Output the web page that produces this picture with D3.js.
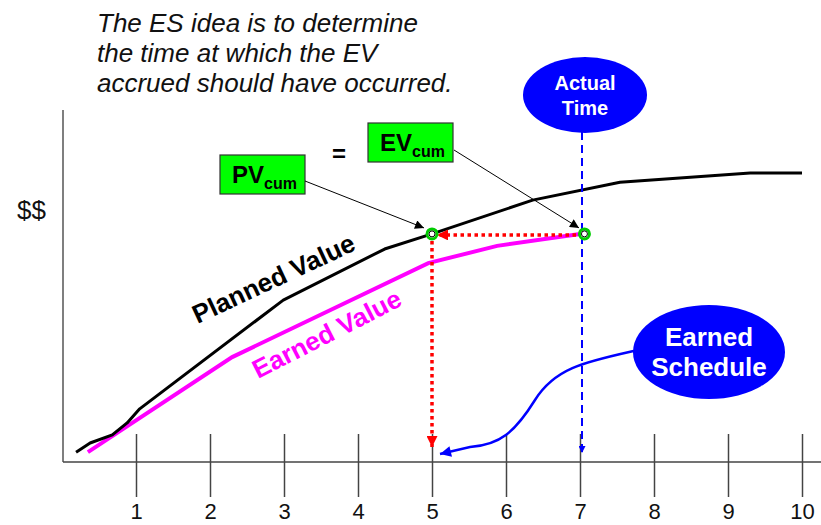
<!DOCTYPE html>
<html>
<head>
<meta charset="utf-8">
<script src="https://cdn.jsdelivr.net/npm/d3@7"></script>
<style>
  body { margin: 0; background: #fff; }
  svg { display: block; font-family: "Liberation Sans", Arial, sans-serif; }
</style>
</head>
<body>
<div id="chart"></div>
<script>
// time axis ticks
const ticks = [1, 2, 3, 4, 5, 6, 7, 8, 9, 10]

// planned value curve (time, $$)
const pvTime  = [0.19, 0.38, 0.68, 0.88, 1.05, 2.99, 4.36, 5.0, 6.36, 7.54, 9.3, 10.0]
const pvValue = [2.8, 5.4, 7.7, 11.1, 15.1, 46.0, 60.5, 64.8, 74.4, 79.5, 82.1, 82.1]

// earned value curve, up to actual time
const evTime  = [0.35, 2.3, 4.95, 5.88, 7.0]
const evValue = [2.8, 29.8, 56.5, 61.4, 64.8]

const actualTime = 7
const earnedSchedule = 5
const evCum = 64.8

const titleLines = ["The ES idea is to determine", "the time at which the EV", "accrued should have occurred."]

const width = 821, height = 525

const svg = d3.select("#chart").append("svg")
    .attr("width", width)
    .attr("height", height)

const x = d3.scaleLinear().domain([0, 10]).range([62, 802])
const y = d3.scaleLinear().domain([0, 100]).range([462, 110])

// arrow heads
const defs = svg.append("defs")
function marker(id, color, w, h) {
    defs.append("marker")
        .attr("id", id)
        .attr("viewBox", "0 0 10 10")
        .attr("refX", 10).attr("refY", 5)
        .attr("markerUnits", "userSpaceOnUse")
        .attr("markerWidth", w).attr("markerHeight", h)
        .attr("orient", "auto")
        .append("path")
        .attr("d", "M0,0 L10,5 L0,10 Z")
        .attr("fill", color)
}
marker("arrBlack", "#000", 12, 9)
marker("arrRed", "#ff0000", 12, 11)
marker("arrBlue", "#0000ff", 14, 11)
marker("arrBlueSmall", "#0000ff", 9, 7)

// title
svg.append("text")
    .attr("x", 97)
    .attr("font-size", 26)
    .attr("font-style", "italic")
    .attr("fill", "#111")
    .selectAll("tspan")
    .data(titleLines)
    .enter()
    .append("tspan")
    .attr("x", 97)
    .attr("y", (d, i) => 32 + i * 30)
    .text(d => d)

// axes
svg.append("line")
    .attr("x1", x(0)+1).attr("x2", x(0)+1)
    .attr("y1", y(100)).attr("y2", y(0))
    .attr("stroke", "#555").attr("stroke-width", 1.5)
svg.append("line")
    .attr("x1", x(0)+1).attr("x2", width)
    .attr("y1", y(0)).attr("y2", y(0))
    .attr("stroke", "#444").attr("stroke-width", 1.5)

const xAxis = d3.axisBottom(x)
    .tickValues(ticks)
    .tickSize(35)
    .tickPadding(6)
    .tickFormat(d3.format("d"))
const gx = svg.append("g")
    .attr("transform", `translate(0,${y(0)})`)
    .call(xAxis)
gx.select(".domain").remove()
gx.selectAll(".tick line")
    .attr("y1", -28)
    .attr("stroke", "#444").attr("stroke-width", 1.5)
gx.selectAll(".tick text")
    .attr("font-size", 22)
    .attr("font-family", "Liberation Sans, Arial, sans-serif")
    .attr("fill", "#111")

svg.append("text")
    .attr("x", 17).attr("y", 219)
    .attr("font-size", 26)
    .attr("fill", "#111")
    .text("$$")

// curves
const line = d3.line().x(d => x(d[0])).y(d => y(d[1]))

svg.append("path")
    .datum(evTime.map((t, i) => [t, evValue[i]]))
    .attr("d", line)
    .attr("fill", "none")
    .attr("stroke", "#ff00ff")
    .attr("stroke-width", 4)

svg.append("path")
    .datum(pvTime.map((t, i) => [t, pvValue[i]]))
    .attr("d", line)
    .attr("fill", "none")
    .attr("stroke", "#000")
    .attr("stroke-width", 3)
    .attr("stroke-linejoin", "round")

// curve labels
svg.append("text")
    .attr("transform", `translate(${x(1.83)},${y(39.2)}) rotate(-25)`)
    .attr("font-size", 26).attr("font-weight", "bold")
    .attr("fill", "#000")
    .text("Planned Value")
svg.append("text")
    .attr("transform", `translate(${x(2.65)},${y(23.6)}) rotate(-27)`)
    .attr("font-size", 26).attr("font-weight", "bold")
    .attr("fill", "#ff00ff")
    .text("Earned Value")

// red dotted projection: EV at AT back to PV curve, then down to time axis
svg.append("line")
    .attr("x1", x(actualTime) - 4).attr("x2", x(earnedSchedule) + 5)
    .attr("y1", y(evCum) + 1).attr("y2", y(evCum) + 1)
    .attr("stroke", "#ff0000").attr("stroke-width", 3.5)
    .attr("stroke-dasharray", "3.5,3.5")
    .attr("marker-end", "url(#arrRed)")
svg.append("line")
    .attr("x1", x(earnedSchedule)).attr("x2", x(earnedSchedule))
    .attr("y1", y(evCum) + 7).attr("y2", y(0) - 15)
    .attr("stroke", "#ff0000").attr("stroke-width", 3.5)
    .attr("stroke-dasharray", "3.5,3.5")
    .attr("marker-end", "url(#arrRed)")

// blue dashed actual time line
svg.append("line")
    .attr("x1", x(actualTime) + 2).attr("x2", x(actualTime) + 2)
    .attr("y1", 132).attr("y2", y(0) - 9)
    .attr("stroke", "#0000ff").attr("stroke-width", 2)
    .attr("stroke-dasharray", "8,5")
    .attr("marker-end", "url(#arrBlueSmall)")

// points
const pts = [[earnedSchedule, evCum], [actualTime + 0.06, evCum]]
svg.selectAll("circle.pt")
    .data(pts)
    .enter()
    .append("circle")
    .attr("class", "pt")
    .attr("cx", d => x(d[0])).attr("cy", d => y(d[1]))
    .attr("r", 5)
    .attr("fill", "#fff")
    .attr("stroke", "#00cc00").attr("stroke-width", 3)
svg.selectAll("circle.ptin")
    .data(pts)
    .enter()
    .append("circle")
    .attr("class", "ptin")
    .attr("cx", d => x(d[0])).attr("cy", d => y(d[1]))
    .attr("r", 3)
    .attr("fill", "#fff")
    .attr("stroke", "#000").attr("stroke-width", 1)

// PV / EV boxes
function box(bx, by, main, sub) {
    const g = svg.append("g")
    g.append("rect")
        .attr("x", bx).attr("y", by)
        .attr("width", 85).attr("height", 39)
        .attr("fill", "#00ff00")
        .attr("stroke", "#333").attr("stroke-width", 1.2)
    const t = g.append("text")
        .attr("x", bx + 12).attr("y", by + 28)
        .attr("font-weight", "bold")
        .attr("fill", "#000")
    t.append("tspan").attr("font-size", 24).text(main)
    t.append("tspan").attr("font-size", 16).attr("dy", 6).text(sub)
}
box(220, 155, "PV", "cum")
box(368, 123, "EV", "cum")

svg.append("text")
    .attr("x", 339).attr("y", 162)
    .attr("text-anchor", "middle")
    .attr("font-size", 24).attr("font-weight", "bold")
    .text("=")

svg.append("line")
    .attr("x1", 305).attr("y1", 181)
    .attr("x2", x(earnedSchedule) - 8).attr("y2", y(evCum) - 6)
    .attr("stroke", "#000").attr("stroke-width", 1)
    .attr("marker-end", "url(#arrBlack)")
svg.append("line")
    .attr("x1", 454).attr("y1", 150)
    .attr("x2", x(actualTime) - 1).attr("y2", y(evCum) - 6)
    .attr("stroke", "#000").attr("stroke-width", 1)
    .attr("marker-end", "url(#arrBlack)")

// Earned Schedule callout arrow
svg.append("path")
    .attr("d", `M634,351 C585,362 555,368 535,400 S500,445 470,447 L${x(earnedSchedule) + 8},${y(0) - 8}`)
    .attr("fill", "none")
    .attr("stroke", "#0000ff").attr("stroke-width", 2.5)
    .attr("marker-end", "url(#arrBlue)")

// ellipses
function bubble(cx, cy, rx, ry, lines, fs, gap) {
    svg.append("ellipse")
        .attr("cx", cx).attr("cy", cy)
        .attr("rx", rx).attr("ry", ry)
        .attr("fill", "#0000ff")
    svg.append("text")
        .attr("text-anchor", "middle")
        .attr("font-size", fs).attr("font-weight", "bold")
        .attr("fill", "#fff")
        .selectAll("tspan")
        .data(lines)
        .enter()
        .append("tspan")
        .attr("x", cx)
        .attr("y", (d, i) => cy - gap / 2 + i * gap + fs * 0.36)
        .text(d => d)
}
bubble(585, 95, 62, 38, ["Actual", "Time"], 20, 25)
bubble(709, 352, 76, 47, ["Earned", "Schedule"], 26, 30)
</script>
</body>
</html>
